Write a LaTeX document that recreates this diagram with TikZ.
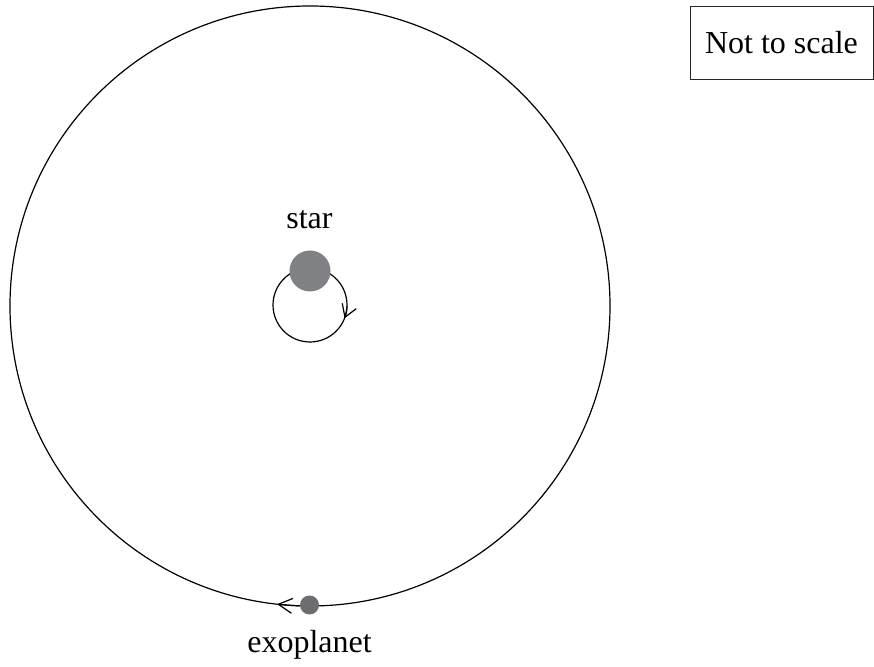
\documentclass[tikz,border=0pt]{standalone}
\usepackage{fontspec}
\setmainfont{Liberation Serif}
\usetikzlibrary{arrows.meta}
\definecolor{stargray}{RGB}{128,129,132}
\definecolor{planetgray}{RGB}{108,109,112}
\tikzset{
  orbitline/.style={draw=black, line width=1.2pt},
  barb/.style={-{Straight Barb[length=#1, width=15pt, line width=1.2pt]}},
  lbl/.style={font=\fontsize{32}{38}\selectfont, inner sep=0pt, anchor=base},
}
\begin{document}
\begin{tikzpicture}[x=1pt,y=1pt]
\useasboundingbox (0,0) rectangle (874,666);
% big orbit
\coordinate (C) at (310,360);
\draw[orbitline] (C) circle[radius=300];
\draw[orbitline, barb=14pt] ([shift={(268:300)}]C) arc[start angle=268, end angle=263.7, radius=300];
% star wobble orbit
\coordinate (S) at (310,361);
\draw[orbitline] (S) circle[radius=37];
\draw[orbitline, barb=12pt] ([shift={(-2:37)}]S) arc[start angle=-2, end angle=-21, radius=37];
% star and planet
\node[circle, fill=stargray, minimum size=41pt, inner sep=0pt] (star) at (310,395) {};
\node[circle, fill=planetgray, minimum size=19pt, inner sep=0pt] (planet) at (309.5,61) {};
% labels
\node[lbl] (starlbl) at (309.5,437) {star};
\node[lbl] (planetlbl) at (309.5,14) {exoplanet};
\node[draw=black!85, line width=0.9pt, minimum width=183pt, minimum height=73pt, inner sep=0pt,
      font=\fontsize{32}{38}\selectfont] (scale) at (781.5,623.5) {Not to scale};
\end{tikzpicture}
\end{document}
